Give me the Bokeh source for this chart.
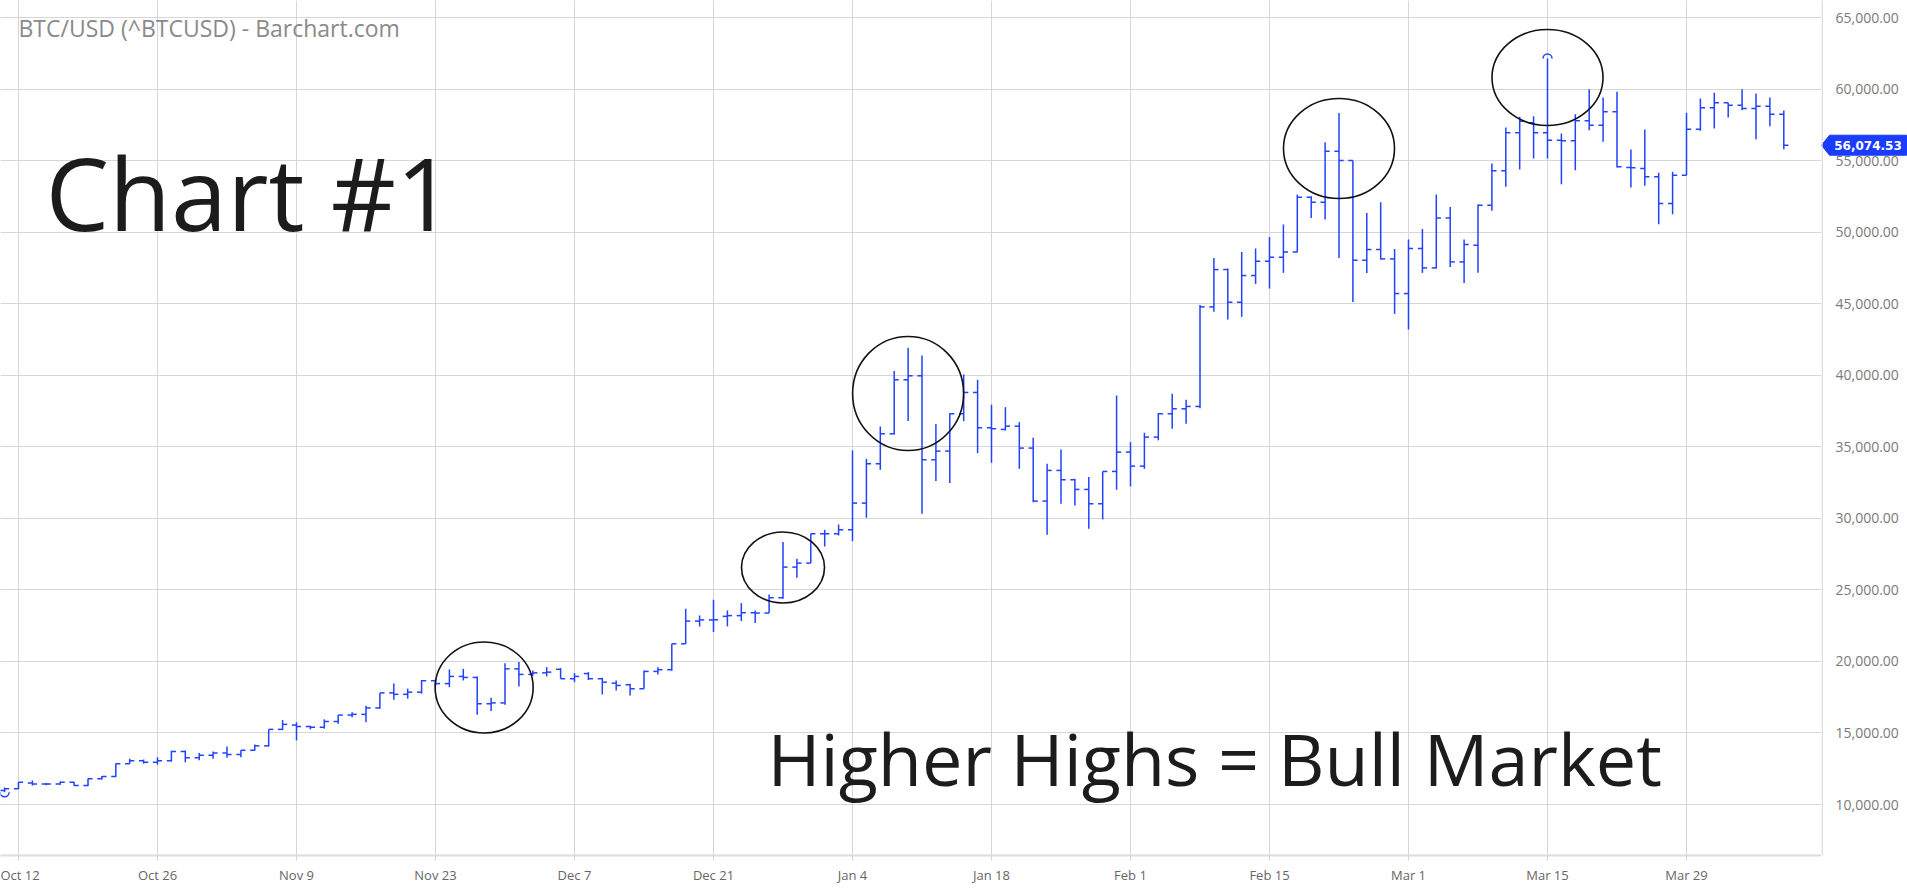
import numpy as np
from bokeh.plotting import figure
from bokeh.layouts import row
from bokeh.models import (FixedTicker, Label, ColumnDataSource, Span, Grid, Range1d)
from bokeh.core.properties import value
from bokeh.embed import file_html
from bokeh.resources import INLINE

# ---------------- data ----------------
tick_positions = [0, 10, 20, 30, 40, 50, 60, 70, 80, 90, 100, 110, 120]
tick_labels = ["Oct 12", "Oct 26", "Nov 9", "Nov 23", "Dec 7", "Dec 21", "Jan 4",
               "Jan 18", "Feb 1", "Feb 15", "Mar 1", "Mar 15", "Mar 29"]
price_ticks = [10000, 15000, 20000, 25000, 30000, 35000, 40000, 45000, 50000,
               55000, 60000, 65000]

# trading-day index (-1 = Oct 9 2020 ... 127 = Apr 7 2021)
bar_index = list(range(-1, 128))

opens = [10980, 11100, 11500, 11430, 11430, 11550, 11330, 11800, 11950, 12850,
         13050, 12950, 13050, 13700, 13270, 13450, 13600, 13500, 13800, 14100,
         15250, 15550, 15450, 15400, 15800, 16250, 16300, 16750, 17800, 17700,
         17850, 18650, 18450, 18950, 18880, 17040, 17100, 19480, 19090, 19200,
         19450, 18790, 19150, 18790, 18480, 18370, 18090, 19300, 19420, 21230,
         22820, 22900, 23150, 23200, 23400, 23380, 24450, 26590, 26870, 28920,
         28920, 29200, 31064, 33812, 35908, 39681, 39960, 34091, 34697, 37305,
         38796, 36327, 36210, 36440, 34907, 31204, 33346, 32694, 32019, 31017,
         33276, 34627, 33649, 35675, 37305, 37655, 37818, 44776, 47385, 45102,
         46966, 47967, 48247, 48619, 52439, 52090, 55653, 55000, 48037, 48782,
         48130, 45708, 48852, 47501, 50995, 47920, 49092, 51887, 54285, 56940,
         57639, 56940, 56428, 56382, 57779, 57476, 58408, 54518, 54449, 53866,
         52003, 53983, 57197, 58687, 59036, 58874, 58641, 58804, 58245]
highs = [11180, 11570, 11680, 11500, 11600, 11580, 11820, 12000, 12870, 13200,
         13150, 13300, 13750, 13770, 13600, 13700, 14050, 13800, 14200, 15250,
         15900, 15750, 15500, 15950, 16250, 16450, 16900, 17800, 18450, 18100,
         18700, 18750, 19440, 19480, 18950, 17460, 19880, 19950, 19370, 19600,
         19530, 19180, 19250, 18860, 18670, 18440, 19370, 19600, 21230, 23680,
         23210, 24310, 23560, 24075, 23560, 24680, 28340, 27170, 28920, 29200,
         29570, 34744, 34160, 36420, 40287, 41917, 41380, 36600, 37350, 40054,
         39680, 37935, 37770, 36720, 35630, 33812, 34813, 32764, 32880, 33276,
         38586, 35326, 35980, 37350, 38703, 38284, 44900, 48200, 47450, 48619,
         48852, 49667, 50529, 52625, 52509, 56282, 58331, 55000, 51344, 52090,
         48829, 49481, 50226, 52625, 51763, 49481, 51934, 54797, 57313, 58060,
         58105, 62134, 56894, 58245, 59991, 59409, 59805, 55776, 57173, 54146,
         54216, 58338, 59339, 59735, 59036, 59991, 59688, 59409, 58500]
lows = [10850, 11080, 11330, 11350, 11380, 11300, 11300, 11750, 11930, 12850,
        12850, 12800, 13000, 12960, 13100, 13200, 13260, 13300, 13750, 14050,
        15200, 14480, 15250, 15300, 15650, 16100, 15750, 16700, 17320, 17400,
        17750, 18300, 18200, 18670, 16270, 16530, 16970, 18250, 19000, 18950,
        18790, 18550, 18700, 17690, 17970, 17620, 18090, 19090, 19350, 21230,
        22440, 22050, 22450, 22820, 22680, 23380, 24380, 25850, 26870, 28030,
        28800, 28409, 30040, 33390, 35860, 36793, 30318, 32601, 32460, 36790,
        34557, 33880, 36140, 33463, 31130, 28851, 31017, 30900, 29270, 29922,
        31995, 32228, 33460, 35450, 36257, 36607, 37700, 44430, 43891, 44078,
        46383, 46057, 47152, 48596, 50995, 50878, 48200, 45126, 47152, 48084,
        44287, 43192, 47152, 47455, 47571, 46453, 47159, 51490, 53168, 54379,
        55147, 55147, 53354, 54332, 57127, 56312, 54518, 53121, 53237, 50559,
        51257, 53983, 57080, 57243, 58012, 58524, 56498, 57406, 55800]
closes = [11100, 11550, 11430, 11430, 11550, 11330, 11800, 11950, 12850, 13050,
          12950, 13050, 13700, 13270, 13450, 13600, 13500, 13800, 14100, 15250,
          15600, 15450, 15400, 15800, 16250, 16300, 16750, 17800, 17700, 17850,
          18650, 18450, 18950, 18880, 17040, 17100, 19480, 19090, 19200, 19250,
          18790, 18950, 18790, 18550, 18320, 18090, 19300, 19420, 21230, 22820,
          22900, 22910, 23200, 23400, 23380, 24450, 26590, 26870, 28920, 28920,
          29200, 31064, 33812, 35908, 39681, 39960, 34091, 34697, 37305, 38796,
          36327, 36260, 36440, 34907, 31204, 33346, 32694, 32019, 31017, 33276,
          34627, 33649, 35675, 37305, 37655, 37818, 44776, 47385, 45102, 46966,
          47967, 48247, 48619, 52439, 52090, 55653, 55000, 48037, 48782, 48130,
          45708, 48852, 47501, 50995, 47920, 49132, 51887, 54285, 56940, 57755,
          56940, 56428, 56382, 57779, 57476, 58408, 54565, 54495, 53866, 52003,
          53983, 57197, 58687, 59036, 58874, 58641, 58804, 58245, 56074.53]
last_price = 56074.53

# highlighted swing highs (bar index, price, ellipse w, h in px)
circle_idx = [33.5, 55.0, 64.0, 95.0, 110.0]
circle_price = [18180, 26566, 38725, 55846, 60807]
circle_w = [98, 83, 111, 111, 111]
circle_h = [91, 71, 114, 100, 96]

# ---------------- layout helpers ----------------
PX_PER_BAR = 13.9
X0_PX = 18.0                      # pixel of bar index 0
PX_PER_USD = 787.0 / 55000.0      # 10k -> 65k spans 787 px
FRAME_W, FRAME_H = 1821, 855
TOTAL_W, TOTAL_H = 1907, 889
AXIS_W = TOTAL_W - FRAME_W
Y_TOP_PX = 17.0                   # pixel of 65,000

def px_x(px):
    return (px - X0_PX) / PX_PER_BAR

def py_v(py):
    return 65000 - (py - Y_TOP_PX) / PX_PER_USD

x_start, x_end = px_x(0), px_x(FRAME_W)
y_end, y_start = py_v(0), py_v(FRAME_H)
yr = Range1d(y_start, y_end)

BLUE = "#2242ff"
TAG_BLUE = "#1a3cff"
GRID = "#d6d6d6"

# ---------------- main chart ----------------
p = figure(width=FRAME_W, height=TOTAL_H, output_backend="svg", toolbar_location=None,
           x_range=(x_start, x_end), y_range=yr, y_axis_location=None,
           min_border_left=0, min_border_top=0, min_border_right=0,
           min_border_bottom=TOTAL_H - FRAME_H)
p.outline_line_color = None
p.background_fill_color = "white"
p.border_fill_color = "white"

xa = p.xaxis[0]
xa.ticker = FixedTicker(ticks=tick_positions)
xa.major_label_overrides = {t: l for t, l in zip(tick_positions, tick_labels)}
xa.major_label_text_font = "Open Sans"
xa.major_label_text_font_size = "13px"
xa.major_label_text_color = "#666666"
xa.major_tick_out = 5
xa.major_tick_in = 0
xa.minor_tick_out = 0
xa.minor_tick_in = 0
xa.major_tick_line_color = GRID
xa.major_label_standoff = 5
xa.axis_line_color = "#dcdcdc"
xa.axis_line_width = 2

p.xgrid.ticker = FixedTicker(ticks=tick_positions)
p.xgrid.grid_line_color = GRID
if len(p.ygrid) == 0:
    p.add_layout(Grid(dimension=1, ticker=FixedTicker(ticks=price_ticks),
                      grid_line_color=GRID))
else:
    p.ygrid.ticker = FixedTicker(ticks=price_ticks)
    p.ygrid.grid_line_color = GRID

# OHLC bars
half = 4.6 / PX_PER_BAR
src = ColumnDataSource(dict(
    x=bar_index, o=opens, h=highs, l=lows, c=closes,
    xl=[i - half for i in bar_index], xr=[i + half for i in bar_index]))
p.segment(x0="x", y0="l", x1="x", y1="h", source=src, line_color=BLUE, line_width=1.5)
p.segment(x0="xl", y0="o", x1="x", y1="o", source=src, line_color=BLUE, line_width=1.5)
p.segment(x0="x", y0="c", x1="xr", y1="c", source=src, line_color=BLUE, line_width=1.5)

# highest-high / lowest-low markers
imax = int(np.argmax(highs))
imin = int(np.argmin(lows))
p.arc(x=[bar_index[imax]], y=[highs[imax]], radius=4.5, radius_units="screen",
      start_angle=0, end_angle=np.pi, line_color=BLUE, line_width=1.5)
p.arc(x=[bar_index[imin]], y=[lows[imin]], radius=4.5, radius_units="screen",
      start_angle=np.pi, end_angle=2 * np.pi, line_color=BLUE, line_width=1.5)

# hand-drawn circles
p.ellipse(x=circle_idx, y=circle_price, width=circle_w, height=circle_h,
          width_units="screen", height_units="screen", fill_color=None,
          line_color="#111111", line_width=1.6)

# texts (rendered baseline sits ~0.39 em below the anchor)
def add_text(txt, left_px, baseline_px, size, color):
    p.add_layout(Label(x=px_x(left_px), y=py_v(baseline_px - 0.39 * size), text=txt,
                       text_font="Open Sans", text_font_size=f"{size}px",
                       text_color=color, text_baseline="alphabetic", text_align="left"))

add_text("BTC/USD (^BTCUSD) - Barchart.com", 18, 36, 23, "#8a8a8a")
add_text("Chart #1", 45, 231, 101, "#1c1c1c")
add_text("Higher Highs = Bull Market", 767, 786, 72, "#1c1c1c")

# ---------------- price scale panel (right) ----------------
q = figure(width=AXIS_W, height=TOTAL_H, output_backend="svg", toolbar_location=None,
           x_range=(0, AXIS_W), y_range=yr, x_axis_location=None, y_axis_location=None,
           min_border_left=0, min_border_top=0, min_border_right=0,
           min_border_bottom=TOTAL_H - FRAME_H)
q.outline_line_color = None
q.background_fill_color = "white"
q.border_fill_color = "white"
for g in q.grid:
    g.visible = False

q.add_layout(Span(location=0.6, dimension="height", line_color="#d0d0d0", line_width=1.2))
q.text(x=[14] * len(price_ticks), y=price_ticks,
       text=[f"{v:,.2f}" for v in price_ticks],
       text_font=value("Open Sans"), text_font_size="14px", text_color="#7a7a7a",
       text_align="left", text_baseline="middle")

# last price tag
dy = 10 / PX_PER_USD
q.patch(x=[0, 8, AXIS_W - 1, AXIS_W - 1, 8],
        y=[last_price, last_price + dy, last_price + dy, last_price - dy, last_price - dy],
        fill_color=TAG_BLUE, line_color=TAG_BLUE)
q.text(x=[(8 + AXIS_W - 1) / 2], y=[last_price], text=[f"{last_price:,.2f}"],
       text_font=value("DejaVu Sans"), text_font_style="bold", text_font_size="12px",
       text_color="white", text_align="center", text_baseline="middle")

layout = row(p, q, spacing=0)
open("out.html", "w").write(file_html(layout, INLINE))
